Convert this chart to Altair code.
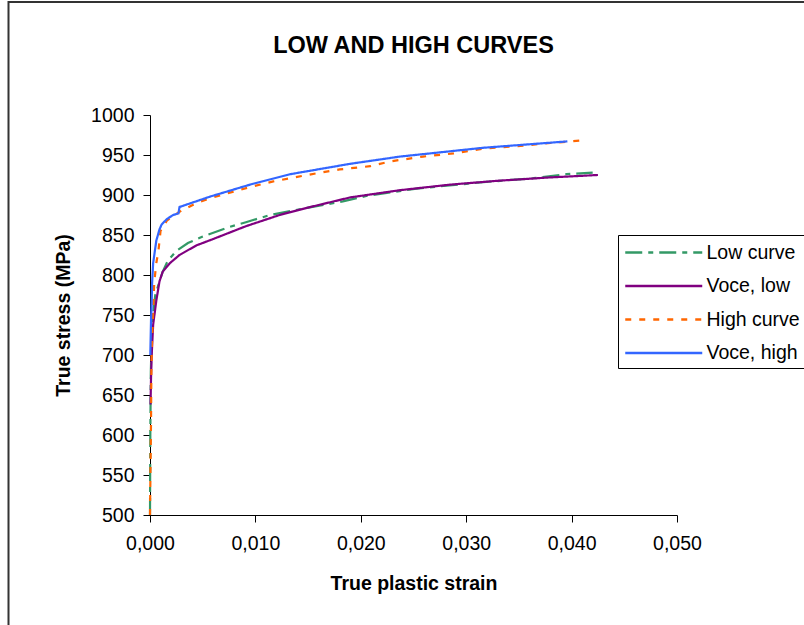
import altair as alt
import pandas as pd

FONT = "Liberation Sans"

# Series names (legend order)
series_names = ["Low curve", "Voce, low", "High curve", "Voce, high"]
series_colors = ["#339966", "#800080", "#FF6600", "#3366FF"]
series_dashes = [[17, 6, 5, 6], [1, 0], [6, 8], [1, 0]]

# Measured low curve
low_strain = [0.0, 0.00003, 0.00008, 0.0002, 0.0005, 0.0009, 0.0012, 0.0017, 0.0025,
              0.0036, 0.005, 0.0075, 0.0091, 0.0114, 0.0149, 0.0183, 0.0206, 0.0253,
              0.0316, 0.0364, 0.0395, 0.042]
low_stress = [500, 600, 680, 740, 775, 792, 804, 818, 830,
              840, 848, 860, 866, 875, 884, 892, 899, 908,
              916, 921, 926, 928]

# Voce fit to the low curve
voce_low_strain = [0.00005, 0.0001, 0.00016, 0.0003, 0.0006, 0.0009, 0.0012, 0.0019,
                   0.0028, 0.0044, 0.006, 0.0091, 0.0123, 0.0149, 0.019, 0.0237,
                   0.0285, 0.0332, 0.038, 0.0425]
voce_low_stress = [638, 672, 700, 738, 768, 792, 804, 815,
                   825, 837, 845, 861, 875, 884, 897, 906,
                   913, 918, 922, 925]

# Measured high curve
high_strain = [0.0, 0.00005, 0.0001, 0.00013, 0.0002, 0.0004, 0.0006, 0.0008, 0.001,
               0.0016, 0.0028, 0.0044, 0.0057, 0.0095, 0.0117, 0.0149, 0.018, 0.0209,
               0.0228, 0.0259, 0.0288, 0.0316, 0.0348, 0.038, 0.0408]
high_stress = [500, 560, 620, 680, 720, 790, 815, 830, 855,
               868, 879, 890, 896, 910, 917, 925, 932, 936,
               942, 948, 952, 958, 961, 965, 968]

# Voce fit to the high curve
voce_high_strain = [0.00003, 0.0001, 0.00015, 0.0002, 0.0003, 0.0006, 0.0009, 0.0011,
                    0.0016, 0.0022, 0.0027, 0.0028, 0.0057, 0.0095, 0.0133, 0.019,
                    0.0237, 0.0316, 0.0396]
voce_high_stress = [700, 745, 760, 790, 815, 843, 857, 863,
                    870, 875, 877, 885, 898, 913, 926, 939,
                    948, 959, 967]

rows = []
for name, xs, ys in zip(series_names,
                        [low_strain, voce_low_strain, high_strain, voce_high_strain],
                        [low_stress, voce_low_stress, high_stress, voce_high_stress]):
    for i, (x, y) in enumerate(zip(xs, ys)):
        rows.append({"series": name, "strain": x, "stress": y, "idx": i})
df = pd.DataFrame(rows)

x_ticks = [0.0, 0.01, 0.02, 0.03, 0.04, 0.05]
y_ticks = [500, 550, 600, 650, 700, 750, 800, 850, 900, 950, 1000]

# Legend symbol: a 77 px horizontal stroke drawn from a small symbol size,
# so the legend rows stay compact.
legend_symbol = "M-0.932,0H6.068"

lines = alt.Chart(df).mark_line(strokeWidth=2.2).encode(
    x=alt.X("strain:Q",
            scale=alt.Scale(domain=[0, 0.05], nice=False, zero=False),
            axis=alt.Axis(values=x_ticks, title="True plastic strain",
                          labelExpr="replace(format(datum.value, '.3f'), '.', ',')",
                          labelFlush=False, labelOverlap=False, grid=False,
                          tickSize=7, labelPadding=12, titlePadding=22)),
    y=alt.Y("stress:Q",
            scale=alt.Scale(domain=[500, 1000], nice=False, zero=False),
            axis=alt.Axis(values=y_ticks, title="True stress (MPa)", format="d",
                          labelOverlap=False, grid=False,
                          tickSize=7, labelPadding=9, titlePadding=17)),
    color=alt.Color("series:N",
                    scale=alt.Scale(domain=series_names, range=series_colors),
                    legend=alt.Legend(title=None, orient="none", legendX=468, legendY=120,
                                      symbolType=legend_symbol, symbolSize=484,
                                      symbolStrokeWidth=2.5, labelFontSize=19.5,
                                      labelFont=FONT, labelColor="black",
                                      labelOffset=58.5, padding=5,
                                      rowPadding=11.5, strokeColor="black",
                                      fillColor="white", labelLimit=300)),
    strokeDash=alt.StrokeDash("series:N",
                              scale=alt.Scale(domain=series_names, range=series_dashes),
                              legend=alt.Legend(title=None, orient="none", legendX=468,
                                                legendY=120)),
    order="idx:Q",
)

# Outer chart frame
frame = alt.Chart(pd.DataFrame({"f": [0]})).mark_rect(
    filled=False, stroke="#333333", strokeWidth=2
).encode(
    x=alt.value(-141.5), x2=alt.value(800),
    y=alt.value(-113), y2=alt.value(520),
)

chart = alt.layer(frame, lines).properties(
    width=527,
    height=400,
    background="white",
    autosize=alt.AutoSizeParams(type="none"),
    padding={"left": 150, "top": 115, "right": 127, "bottom": 110},
    title=alt.TitleParams("LOW AND HIGH CURVES", font=FONT, fontSize=23.5,
                          fontWeight="bold", anchor="middle", offset=-56, color="black"),
).configure_axis(
    labelFont=FONT, labelFontSize=19.5, labelColor="black",
    titleFont=FONT, titleFontSize=19.5, titleFontWeight="bold", titleColor="black",
    domainColor="black", tickColor="black", domainWidth=1, tickWidth=1,
).configure_view(stroke=None)

chart.save("out.html", embed_options={"renderer": "svg", "actions": False})
